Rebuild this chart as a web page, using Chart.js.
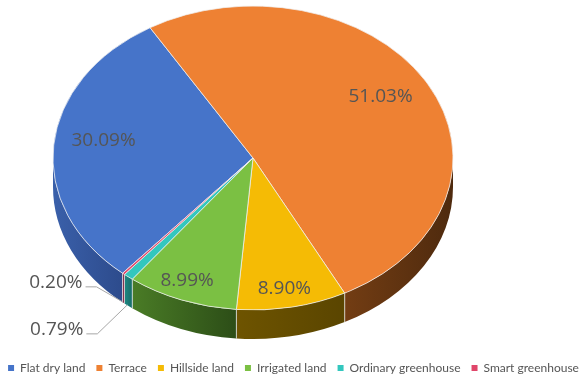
<!DOCTYPE html>
<html>
<head>
<meta charset="utf-8">
<script src="https://cdn.jsdelivr.net/npm/chart.js@4.4.0/dist/chart.umd.min.js"></script>
<style>
  html, body { margin: 0; padding: 0; background: #ffffff; }
  #wrap { width: 579px; height: 374px; position: relative; overflow: hidden; }
  #c { position: absolute; left: -4px; top: 0; }
</style>
</head>
<body>
<div id="wrap"><canvas id="c" width="595" height="384"></canvas></div>
<script>
// Land-use shares (%)
const categories = ['Flat dry land', 'Terrace', 'Hillside land', 'Irrigated land', 'Ordinary greenhouse', 'Smart greenhouse'];
const shares = [30.09, 51.03, 8.90, 8.99, 0.79, 0.20];

// Slice colours (top face) and the darker tones of the pie's rim
const topColors = ['#4674C9', '#EE8133', '#F5BB05', '#7BC043', '#33C7BE', '#E0466A'];
const rimLight = ['#3A60AA', '#733D13', '#6E5400', '#4A7C26', '#1E8A84', '#8A3050'];
const rimDark  = ['#2D4B8C', '#4E2A0E', '#5A4500', '#2C4D17', '#166A66', '#6A2440'];

// Projected pie (canvas px): ellipse centre, radii and rim thickness
const PIE = { cx: 257, cy: 158, rx: 200, ry: 152, depth: 29 };

const fmt = v => v.toFixed(2) + '%';

function drawRim(ctx, arcs) {
  const { cx, cy, rx, ry, depth } = PIE;
  arcs.forEach((arc, i) => {
    const s = arc.startAngle, e = arc.endAngle;
    for (let k = -1; k <= 2; k++) {
      const lo = Math.max(s, 2 * Math.PI * k);
      const hi = Math.min(e, 2 * Math.PI * k + Math.PI);
      if (hi <= lo) continue;
      const xa = cx + rx * Math.cos(lo), xb = cx + rx * Math.cos(hi);
      const g = ctx.createLinearGradient(Math.min(xa, xb) - 0.5, 0, Math.max(xa, xb) + 0.5, 0);
      g.addColorStop(0, rimLight[i]);
      g.addColorStop(1, rimDark[i]);
      ctx.beginPath();
      ctx.ellipse(cx, cy, rx, ry, 0, lo, hi, false);
      ctx.ellipse(cx, cy + depth, rx, ry, 0, hi, lo, true);
      ctx.closePath();
      ctx.fillStyle = g;
      ctx.fill();
      // light seams where slices meet on the rim
      ctx.strokeStyle = 'rgba(235,235,235,0.8)';
      ctx.lineWidth = 0.8;
      [lo, hi].forEach(t => {
        if (t <= 2 * Math.PI * k + 0.001 || t >= 2 * Math.PI * k + Math.PI - 0.001) return;
        const x = cx + rx * Math.cos(t), y = cy + ry * Math.sin(t);
        ctx.beginPath();
        ctx.moveTo(x, y);
        ctx.lineTo(x, y + depth);
        ctx.stroke();
      });
    }
  });
}

// Where each percentage sits: radial fraction plus a nudge, or a leader-line callout
const labelPlacement = [
  { f: 0.75, dx: 0, dy: -8 },
  { f: 0.73, dx: 0, dy: -7 },
  { f: 0.88, dx: -3, dy: -1 },
  { f: 0.88, dx: -3, dy: -2 },
  { callout: true, tx: -45, ty: 24 },
  { callout: true, tx: -41, ty: -20 }
];

function drawLabels(ctx, arcs) {
  const { cx, cy, rx, ry, depth } = PIE;
  ctx.save();
  ctx.font = '19px "Open Sans"';
  ctx.fillStyle = '#555555';
  ctx.textBaseline = 'middle';
  arcs.forEach((arc, i) => {
    const p = labelPlacement[i];
    const mid = (arc.startAngle + arc.endAngle) / 2;
    const text = fmt(shares[i]);
    if (!p.callout) {
      ctx.textAlign = 'center';
      ctx.fillText(text, cx + p.f * rx * Math.cos(mid) + p.dx, cy + p.f * ry * Math.sin(mid) + p.dy);
    } else {
      const ax = cx + rx * Math.cos(mid);
      const ay = cy + ry * Math.sin(mid) + depth;
      const tx = ax + p.tx, ty = ay + p.ty;
      ctx.textAlign = 'right';
      ctx.fillText(text, tx, ty);
      ctx.strokeStyle = '#a6a6a6';
      ctx.lineWidth = 1;
      ctx.beginPath();
      ctx.moveTo(tx + 3, ty + 4);
      ctx.lineTo(tx + 14, ty + 4);
      ctx.lineTo(ax - 1, ay - 1);
      ctx.stroke();
    }
  });
  ctx.restore();
}

const pie3d = {
  id: 'pie3d',
  beforeDatasetsDraw(chart) {
    const ctx = chart.ctx;
    const arcs = chart.getDatasetMeta(0).data;
    drawRim(ctx, arcs);
    const a = arcs[0];
    ctx.save();
    ctx.translate(PIE.cx, PIE.cy);
    ctx.scale(PIE.rx / a.outerRadius, PIE.ry / a.outerRadius);
    ctx.translate(-a.x, -a.y);
  },
  afterDatasetsDraw(chart) {
    const ctx = chart.ctx;
    ctx.restore();
    drawLabels(ctx, chart.getDatasetMeta(0).data);
  }
};

new Chart(document.getElementById('c'), {
  type: 'pie',
  data: {
    labels: categories,
    datasets: [{
      data: shares,
      backgroundColor: topColors,
      borderColor: 'rgba(240,240,240,0.9)',
      borderWidth: 0.8,
      clip: false
    }]
  },
  options: {
    responsive: false,
    devicePixelRatio: 1,
    animation: false,
    rotation: 220.7,
    layout: { padding: { top: 10, bottom: 0, left: 0, right: 0 } },
    events: [],
    plugins: {
      tooltip: { enabled: false },
      legend: {
        position: 'bottom',
        labels: {
          boxWidth: 6,
          boxHeight: 6,
          padding: 11,
          color: '#555555',
          font: { family: 'Lato', size: 12 },
          generateLabels(chart) {
            return Chart.overrides.pie.plugins.legend.labels.generateLabels(chart)
              .map(l => Object.assign(l, { lineWidth: 0, strokeStyle: 'rgba(0,0,0,0)' }));
          }
        }
      }
    }
  },
  plugins: [pie3d]
});
</script>
</body>
</html>
